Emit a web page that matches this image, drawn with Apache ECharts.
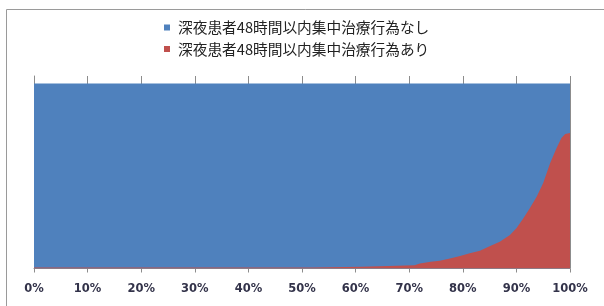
<!DOCTYPE html>
<html>
<head>
<meta charset="utf-8">
<script src="https://cdn.jsdelivr.net/npm/echarts@6/dist/echarts.min.js"></script>
<style>
html,body{margin:0;padding:0;background:#fff;}
#c{width:604px;height:306px;}
</style>
</head>
<body>
<div id="c"></div>
<script>
// Data
const xPct = [0, 52, 52.2, 61.2, 61.4, 71, 72, 74, 75.7, 77.6, 79.5, 81.3, 83.2, 85.1, 86.9, 88.8, 90, 91.3, 92.5, 93.8, 95, 96.3, 97.5, 98.4, 99.1, 100];
const withCare = [0.5, 0.5, 1.0, 1.0, 1.8, 1.8, 2.7, 3.7, 4.2, 5.4, 6.8, 8.2, 9.6, 12.2, 14.5, 18.1, 21.8, 27.2, 32.6, 38.9, 46.2, 57.0, 65.1, 70.5, 72.7, 73.2];
const withoutCare = [99.5, 99.5, 99.0, 99.0, 98.2, 98.2, 97.3, 96.3, 95.8, 94.6, 93.2, 91.8, 90.4, 87.8, 85.5, 81.9, 78.2, 72.8, 67.4, 61.1, 53.8, 43.0, 34.9, 29.5, 27.3, 26.8];
const seriesNames = ['深夜患者48時間以内集中治療行為なし', '深夜患者48時間以内集中治療行為あり'];
const xTicks = [0, 100, 10]; // min, max, interval

// Stacked top of the upper series = lower series + upper series
const stackedTop = xPct.map((x, i) => [x, withCare[i] + withoutCare[i]]);

const chart = echarts.init(document.getElementById('c'), null, {renderer: 'canvas'});
chart.setOption({
  animation: false,
  backgroundColor: '#fff',
  graphic: [{
    type: 'rect',
    shape: {x: 6.5, y: 9.5, width: 700, height: 400},
    style: {fill: 'none', stroke: '#9a9a9a', lineWidth: 1},
    silent: true, z: -10
  }],
  legend: {
    orient: 'vertical',
    left: 164,
    top: 19.5,
    padding: 0,
    itemWidth: 6,
    itemHeight: 6,
    itemGap: 5.5,
    icon: 'rect',
    data: [seriesNames[0], seriesNames[1]],
    textStyle: {
      fontFamily: '"Noto Sans CJK JP", sans-serif',
      fontSize: 14.7,
      lineHeight: 16,
      color: '#222',
      padding: [0, 0, 0, 3]
    }
  },
  grid: {left: 34, right: 34, top: 76, bottom: 37.5, containLabel: false},
  xAxis: {
    type: 'value',
    min: xTicks[0], max: xTicks[1], interval: xTicks[2],
    axisLine: {show: true, lineStyle: {color: '#8c8c8c', width: 1}},
    axisTick: {show: true, length: 4, lineStyle: {color: '#8c8c8c'}},
    splitLine: {show: true, lineStyle: {color: '#8c8c8c', width: 1}},
    axisLabel: {
      formatter: '{value}%',
      margin: 15,
      fontFamily: 'DejaVu Sans, sans-serif',
      fontSize: 11.5,
      fontWeight: 'bold',
      color: '#33334a'
    }
  },
  yAxis: {
    type: 'value',
    min: 0, max: 104,
    axisLine: {show: true, lineStyle: {color: '#8c8c8c', width: 1}},
    axisTick: {show: false},
    axisLabel: {show: false},
    splitLine: {show: false}
  },
  series: [
    {
      name: seriesNames[0],
      type: 'line',
      z: 2,
      symbol: 'none',
      lineStyle: {width: 0},
      itemStyle: {color: '#4F81BD'},
      areaStyle: {color: '#4F81BD', opacity: 1},
      data: stackedTop
    },
    {
      name: seriesNames[1],
      type: 'line',
      z: 3,
      symbol: 'none',
      lineStyle: {width: 0},
      itemStyle: {color: '#C0504D'},
      areaStyle: {color: '#C0504D', opacity: 1},
      data: xPct.map((x, i) => [x, withCare[i]])
    }
  ]
});
</script>
</body>
</html>
